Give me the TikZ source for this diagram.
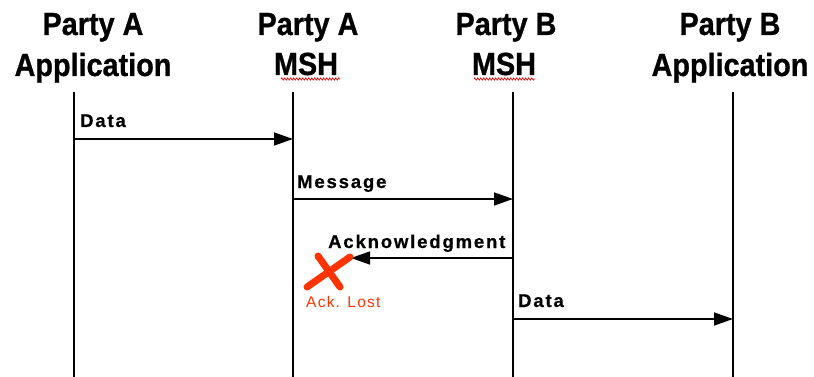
\documentclass[tikz,border=0pt]{standalone}
\usepackage{fontspec}
\setmainfont{Liberation Sans}
\newfontfamily\headfont[FakeStretch=0.9,FakeBold=0.8]{Liberation Sans}
\newfontfamily\labfont[LetterSpace=10,FakeBold=0.6]{Liberation Sans}
\newfontfamily\lostfont[LetterSpace=8]{Liberation Sans}
\usetikzlibrary{arrows.meta,decorations.pathmorphing}
\definecolor{lostred}{RGB}{255,51,0}
\tikzset{
  head/.style={inner sep=0pt, anchor=base, font=\headfont\bfseries\fontsize{32}{32}\selectfont},
  lifeline/.style={line width=1.3pt, black},
  msg/.style={line width=1.4pt, -{Triangle[length=19pt,width=13pt]}},
  msglabel/.style={inner sep=0pt, anchor=base west, font=\labfont\bfseries\fontsize{18.5}{18.5}\selectfont},
  lostlabel/.style={inner sep=0pt, anchor=base west, text=lostred, font=\lostfont\fontsize{15.5}{15.5}\selectfont},
  cross/.style={line width=7pt, lostred, line cap=round},
  squiggle/.style={red, line width=0.6pt, decorate, decoration={zigzag, amplitude=1.2pt, segment length=3pt}}
}
\begin{document}
\begin{tikzpicture}[x=1pt,y=-1pt]
\useasboundingbox (0,0) rectangle (814,377);
% headers
\node[head] (h1a) at (93,35) {Party A};
\node[head] (h1b) at (93,76) {Application};
\node[head] (h2a) at (308,35) {Party A};
\node[head] (h2b) at (306,75) {MSH};
\node[head] (h3a) at (506,35) {Party B};
\node[head] (h3b) at (504,75) {MSH};
\node[head] (h4a) at (730,35) {Party B};
\node[head] (h4b) at (730,76) {Application};
% spell-check squiggles
\coordinate (s2a) at (281,79); \coordinate (s2b) at (340,79);
\coordinate (s3a) at (474,79); \coordinate (s3b) at (535,79);
\draw[squiggle] (s2a) -- (s2b);
\draw[squiggle] (s3a) -- (s3b);
% lifelines
\coordinate (l1t) at (74,92);  \coordinate (l1b) at (74,377);
\coordinate (l2t) at (293,92); \coordinate (l2b) at (293,377);
\coordinate (l3t) at (513,92); \coordinate (l3b) at (513,377);
\coordinate (l4t) at (733,92); \coordinate (l4b) at (733,377);
\draw[lifeline] (l1t) -- (l1b);
\draw[lifeline] (l2t) -- (l2b);
\draw[lifeline] (l3t) -- (l3b);
\draw[lifeline] (l4t) -- (l4b);
% messages
\coordinate (m1s) at (74,139);  \coordinate (m1e) at (293,139);
\coordinate (m2s) at (293,199); \coordinate (m2e) at (513,199);
\coordinate (m3s) at (513,258); \coordinate (m3e) at (351,258);
\coordinate (m4s) at (513,319); \coordinate (m4e) at (733,319);
\draw[msg] (m1s) -- (m1e);
\draw[msg] (m2s) -- (m2e);
\draw[msg] (m3s) -- (m3e);
\draw[msg] (m4s) -- (m4e);
\node[msglabel] (t1) at (80,127) {Data};
\node[msglabel] (t2) at (297,188) {Message};
\node[msglabel] (t3) at (328,248) {Acknowledgment};
\node[msglabel] (t4) at (518,307) {Data};
% lost marker
\coordinate (x1) at (307,287); \coordinate (x2) at (350,257);
\coordinate (x3) at (318,256); \coordinate (x4) at (340,287);
\draw[cross] (x1) -- (x2);
\draw[cross] (x3) -- (x4);
\node[lostlabel] (lost) at (306,307) {Ack. Lost};
\end{tikzpicture}
\end{document}
